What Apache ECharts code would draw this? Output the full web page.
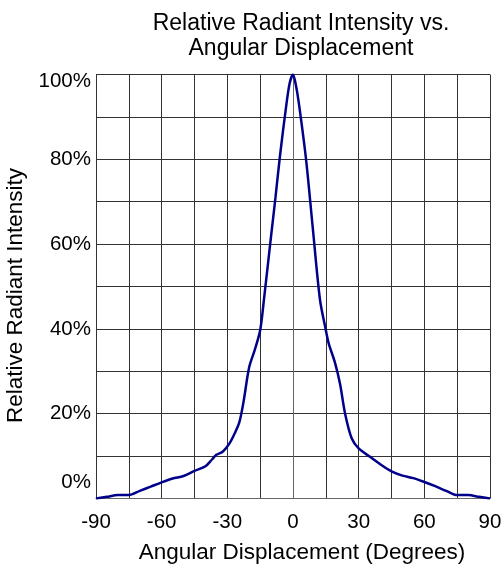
<!DOCTYPE html>
<html>
<head>
<meta charset="utf-8">
<script src="https://cdn.jsdelivr.net/npm/echarts@6/dist/echarts.min.js"></script>
<style>
html,body{margin:0;padding:0;background:#fff;}
#chart{width:501px;height:568px;}
</style>
</head>
<body>
<div id="chart"></div>
<script>
const angles = [-90,-85,-80,-75,-70,-65,-60,-55,-50,-45,-40,-37,-35,-32,-29,-26.5,-24.5,-22.7,-20,-17.5,-15,-13.3,-10,-8,-6,-3,-1.5,0,1.5,3,6,9,12.3,15,16.3,19.2,21.5,23.8,26.8,30,35,40,45,50,55,60,65,70,75,80,85,90];
const intensity = [0,0.4,0.8,0.8,1.8,2.8,3.8,4.7,5.3,6.5,7.6,9.2,10.3,11.1,13,15.5,18,22.5,31,35,39.7,46.8,62,71,80.6,93,98,100,97,92,79.8,64,47,39.7,36.6,32,27,20,14.2,11.8,9.9,8,6.4,5.4,4.8,3.9,2.9,1.8,0.8,0.8,0.4,0];
const xTickLabels = [-90,-60,-30,0,30,60,90];
const yTickLabels = [0,20,40,60,80,100];
const titleLines = ['Relative Radiant Intensity vs.', 'Angular Displacement'];

const font = '"Liberation Sans", Arial, sans-serif';
const tickSize = 20.5;
const chart = echarts.init(document.getElementById('chart'), null, {renderer:'canvas'});
chart.setOption({
  animation:false,
  backgroundColor:'#fff',
  title:{
    text:titleLines.join('\n'),
    top:6, left:296, textAlign:'center',
    textStyle:{fontFamily:font,fontSize:23,fontWeight:'normal',color:'#000',lineHeight:25}
  },
  grid:{left:96,right:11,top:74.5,bottom:69.5,containLabel:false,outerBoundsMode:'none'},
  xAxis:{
    type:'value', min:-90, max:90, interval:15,
    name:'Angular Displacement (Degrees)', nameLocation:'middle', nameGap:43,
    nameTextStyle:{fontFamily:font,fontSize:22.5,color:'#000',padding:[0,0,0,18]},
    axisLine:{show:true,onZero:false,lineStyle:{color:'#666',width:1}},
    axisTick:{show:false},
    axisLabel:{margin:13,fontFamily:font,fontSize:tickSize,color:'#000',
      formatter:v=> xTickLabels.includes(v) ? String(v) : ''},
    splitLine:{show:true,lineStyle:{color:'#333',width:1}}
  },
  yAxis:{
    type:'value', min:0, max:100, interval:10,
    name:'Relative Radiant Intensity', nameLocation:'middle', nameGap:67,
    nameTextStyle:{fontFamily:font,fontSize:22.5,color:'#000',padding:[0,18,0,0]},
    axisLine:{show:true,lineStyle:{color:'#666',width:1}},
    axisTick:{show:false},
    axisLabel:{margin:5,fontFamily:font,fontSize:tickSize,color:'#000',
      formatter:v=>{
        if(!yTickLabels.includes(v)) return '';
        if(v===0) return '{lo|0%}';
        if(v===100) return '{hi|100%}';
        return v+'%';
      },
      rich:{
        lo:{fontFamily:font,fontSize:tickSize,color:'#000',padding:[0,0,32,0]},
        hi:{fontFamily:font,fontSize:tickSize,color:'#000',padding:[14,0,0,0]}
      }},
    splitLine:{show:true,lineStyle:{color:'#333',width:1}}
  },
  series:[{
    type:'line',
    data:angles.map((a,i)=>[a,intensity[i]]),
    smooth:0.3,
    symbol:'none',
    lineStyle:{color:'#00008B',width:2.5},
    z:5
  }]
});
</script>
</body>
</html>
